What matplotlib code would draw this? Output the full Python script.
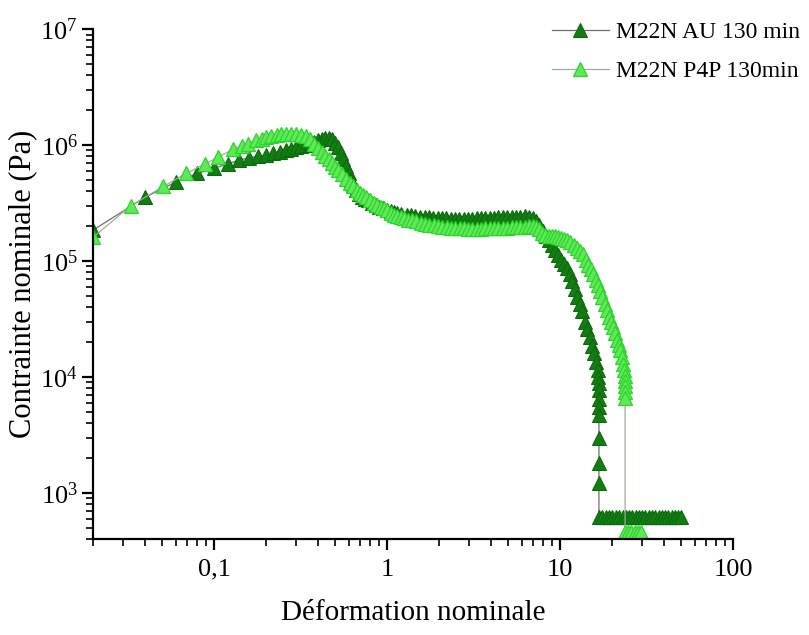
import numpy as np
import matplotlib
matplotlib.use('Agg')
import matplotlib.pyplot as plt
from matplotlib.ticker import LogLocator, FixedLocator, FixedFormatter, NullFormatter

# Data (nominal strain, nominal stress in Pa)
au_strain = [0.02, 0.04, 0.06, 0.08, 0.10, 0.12, 0.14, 0.16, 0.18, 0.20,
             0.22, 0.24, 0.26, 0.28, 0.30, 0.32, 0.34, 0.36, 0.38, 0.40,
             0.42, 0.44, 0.46, 0.48, 0.50, 0.52, 0.54, 0.56, 0.58, 0.60,
             0.62, 0.64, 0.66, 0.69, 0.72, 0.75, 0.78, 0.82, 0.86, 0.90,
             0.95, 1.0, 1.05, 1.1, 1.15, 1.2, 1.3, 1.38, 1.46, 1.55,
             1.65, 1.75, 1.85, 1.96, 2.08, 2.2, 2.33, 2.47, 2.62, 2.78,
             2.95, 3.12, 3.3, 3.5, 3.7, 3.93, 4.16, 4.4, 4.67, 4.95,
             5.25, 5.55, 5.9, 6.25, 6.6, 7.0, 7.3, 7.6, 8.0, 8.3,
             8.6, 9.0, 9.4, 9.8, 10.2, 10.6, 11.0, 11.4, 11.8, 12.2,
             12.6, 13.0, 13.4, 13.9, 14.4, 14.9, 15.4, 15.8, 16.2, 16.5,
             16.7, 16.8, 16.8, 16.8, 16.8, 16.8, 16.8, 16.8, 16.8, 16.8,
             17.6, 18.4, 19.2, 20.1, 21.0, 22.0, 23.0, 24.0, 25.1, 26.2,
             27.4, 28.6, 29.9, 31.2, 32.6, 34.1, 35.6, 37.2, 38.9, 40.6,
             42.4, 44.3, 46.3, 48.4, 50.0]
au_stress = [1.85e5, 3.55e5, 4.8e5, 5.7e5, 6.3e5, 6.9e5, 7.4e5, 7.8e5, 8.0e5, 8.2e5,
             8.5e5, 8.8e5, 9.0e5, 9.3e5, 9.6e5, 9.8e5, 1.0e6, 1.04e6, 1.07e6, 1.1e6,
             1.12e6, 1.15e6, 1.15e6, 1.12e6, 1.05e6, 9.6e5, 8.6e5, 7.6e5, 6.6e5, 5.7e5,
             5.0e5, 4.5e5, 4.1e5, 3.8e5, 3.6e5, 3.45e5, 3.35e5, 3.2e5, 3.05e5, 2.95e5,
             2.85e5, 2.75e5, 2.7e5, 2.65e5, 2.6e5, 2.56e5, 2.52e5, 2.48e5, 2.45e5, 2.42e5,
             2.4e5, 2.38e5, 2.37e5, 2.36e5, 2.35e5, 2.34e5, 2.33e5, 2.33e5, 2.33e5, 2.33e5,
             2.33e5, 2.33e5, 2.34e5, 2.35e5, 2.35e5, 2.36e5, 2.37e5, 2.38e5, 2.39e5, 2.4e5,
             2.41e5, 2.42e5, 2.42e5, 2.43e5, 2.42e5, 2.35e5, 2.2e5, 2.05e5, 1.8e5, 1.65e5,
             1.52e5, 1.38e5, 1.25e5, 1.12e5, 1.02e5, 9.4e4, 8.7e4, 7.8e4, 6.8e4, 5.8e4,
             4.9e4, 4.3e4, 3.7e4, 3.0e4, 2.6e4, 2.2e4, 1.85e4, 1.6e4, 1.35e4, 1.15e4,
             1.0e4, 8.8e3, 7.7e3, 6.5e3, 5.5e3, 4.7e3, 2.97e3, 1.8e3, 1.21e3, 620,
             620, 620, 620, 620, 620, 620, 620, 620, 620, 620,
             620, 620, 620, 620, 620, 620, 620, 620, 620, 620,
             620, 620, 620, 620, 620]

p4p_strain = [0.02, 0.033, 0.051, 0.069, 0.089, 0.106, 0.129, 0.145, 0.158, 0.176,
              0.19, 0.20, 0.215, 0.23, 0.245, 0.26, 0.28, 0.30, 0.32, 0.34,
              0.36, 0.38, 0.40, 0.42, 0.44, 0.46, 0.48, 0.50, 0.52, 0.55,
              0.58, 0.61, 0.64, 0.67, 0.70, 0.73, 0.76, 0.80, 0.84, 0.88,
              0.92, 0.96, 1.0, 1.05, 1.1, 1.15, 1.2, 1.26, 1.32, 1.4,
              1.48, 1.57, 1.66, 1.76, 1.86, 1.97, 2.09, 2.21, 2.34, 2.48,
              2.63, 2.78, 2.95, 3.12, 3.3, 3.5, 3.7, 3.93, 4.16, 4.4,
              4.67, 4.95, 5.25, 5.55, 5.9, 6.25, 6.6, 7.0, 7.3, 7.6,
              7.9, 8.2, 8.6, 9.0, 9.4, 9.8, 10.2, 10.6, 11.0, 11.5,
              12.0, 12.5, 13.0, 13.6, 14.1, 14.6, 15.1, 15.6, 16.1, 16.6,
              17.1, 17.6, 18.1, 18.7, 19.2, 19.7, 20.2, 20.8, 21.3, 21.8,
              22.3, 22.8, 23.2, 23.5, 23.7, 23.8, 23.8, 23.8, 23.8, 23.8,
              24.8, 25.9, 27.0, 28.2, 29.4]
p4p_stress = [1.6e5, 3.0e5, 4.4e5, 5.7e5, 6.9e5, 7.9e5, 9.2e5, 9.9e5, 1.03e6, 1.1e6,
              1.14e6, 1.17e6, 1.2e6, 1.22e6, 1.24e6, 1.25e6, 1.26e6, 1.25e6, 1.23e6, 1.2e6,
              1.12e6, 1.02e6, 9.4e5, 8.7e5, 8.1e5, 7.6e5, 7.0e5, 6.5e5, 6.1e5, 5.6e5,
              5.1e5, 4.7e5, 4.4e5, 4.1e5, 3.9e5, 3.7e5, 3.55e5, 3.35e5, 3.2e5, 3.05e5,
              2.95e5, 2.85e5, 2.75e5, 2.62e5, 2.52e5, 2.45e5, 2.4e5, 2.34e5, 2.28e5, 2.24e5,
              2.2e5, 2.15e5, 2.1e5, 2.06e5, 2.03e5, 2.0e5, 1.98e5, 1.96e5, 1.94e5, 1.93e5,
              1.92e5, 1.92e5, 1.91e5, 1.91e5, 1.91e5, 1.91e5, 1.92e5, 1.92e5, 1.92e5, 1.93e5,
              1.93e5, 1.94e5, 1.95e5, 1.96e5, 1.97e5, 1.98e5, 1.99e5, 2.0e5, 1.98e5, 1.9e5,
              1.75e5, 1.68e5, 1.65e5, 1.64e5, 1.63e5, 1.61e5, 1.59e5, 1.56e5, 1.52e5, 1.46e5,
              1.38e5, 1.3e5, 1.22e5, 1.15e5, 1.03e5, 9.3e4, 8.5e4, 7.7e4, 6.9e4, 6.2e4,
              5.5e4, 4.9e4, 4.3e4, 3.8e4, 3.3e4, 3.0e4, 2.7e4, 2.4e4, 2.1e4, 1.9e4,
              1.7e4, 1.5e4, 1.3e4, 1.15e4, 1.03e4, 9.2e3, 8.3e3, 7.5e3, 6.6e3, 460,
              460, 460, 460, 460, 460]

series_labels = ['M22N AU 130 min', 'M22N P4P 130min']
x_ticks = [0.1, 1, 10, 100]
x_tick_labels = ['0,1', '1', '10', '100']
y_ticks = [1e3, 1e4, 1e5, 1e6, 1e7]
y_tick_labels = [r'$10^{3}$', r'$10^{4}$', r'$10^{5}$', r'$10^{6}$', r'$10^{7}$']

plt.rcParams['font.family'] = 'Liberation Serif'
plt.rcParams['mathtext.fontset'] = 'custom'
plt.rcParams['mathtext.rm'] = 'Liberation Serif'
plt.rcParams['mathtext.it'] = 'Liberation Serif:italic'

fig = plt.figure(figsize=(8.09, 6.35), dpi=100)
ax = fig.add_axes([0.115, 0.151, 0.791, 0.803])

ax.plot(au_strain, au_stress, color='#6f6f6f', lw=0.9, marker='^', markersize=9.5,
        markerfacecolor='#137d13', markeredgecolor='#0c6a0c', markeredgewidth=0.8,
        label=series_labels[0])
ax.plot(p4p_strain, p4p_stress, color='#9aae9a', lw=0.9, marker='^', markersize=9.5,
        markerfacecolor='#5fe857', markeredgecolor='#2cd42c', markeredgewidth=0.9,
        label=series_labels[1])

ax.set_xscale('log')
ax.set_yscale('log')
ax.set_xlim(0.02, 100)
ax.set_ylim(400, 1e7)

ax.xaxis.set_major_locator(FixedLocator(x_ticks))
ax.xaxis.set_major_formatter(FixedFormatter(x_tick_labels))
ax.xaxis.set_minor_locator(LogLocator(base=10, subs=np.arange(2, 10), numticks=20))
ax.xaxis.set_minor_formatter(NullFormatter())
ax.yaxis.set_major_locator(FixedLocator(y_ticks))
ax.yaxis.set_major_formatter(FixedFormatter(y_tick_labels))
ax.yaxis.set_minor_locator(LogLocator(base=10, subs=np.arange(2, 10), numticks=20))
ax.yaxis.set_minor_formatter(NullFormatter())

ax.tick_params(which='major', direction='out', length=8, width=1.6, labelsize=19, pad=6)
ax.tick_params(axis='y', which='major', pad=3)
ax.tick_params(which='minor', direction='out', length=5, width=1.2)

ax.spines['top'].set_visible(False)
ax.spines['right'].set_visible(False)
ax.spines['left'].set_linewidth(1.6)
ax.spines['bottom'].set_linewidth(1.6)

ax.set_xlabel('Déformation nominale', fontsize=21, labelpad=14)
ax.set_ylabel('Contrainte nominale (Pa)', fontsize=22, labelpad=2)

fig.legend(loc='upper right', bbox_to_anchor=(1.015, 1.0), frameon=False, fontsize=17,
           handlelength=2.4, handletextpad=0.3, labelspacing=0.75, borderaxespad=0.5)

plt.savefig('out.png', dpi=100)
